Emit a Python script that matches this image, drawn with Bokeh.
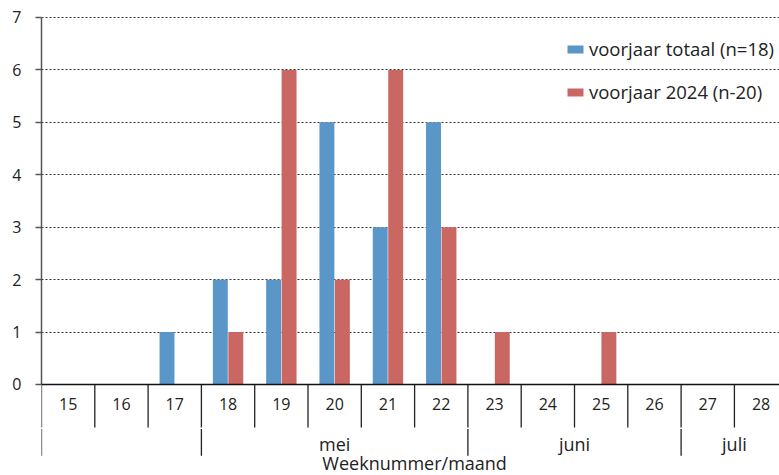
from bokeh.plotting import figure
from bokeh.models import Range1d, FixedTicker, Span, Legend, LegendItem, ColumnDataSource
from bokeh.transform import dodge
from bokeh.core.properties import value
from bokeh.embed import file_html
from bokeh.resources import INLINE

weeks = [15, 16, 17, 18, 19, 20, 21, 22, 23, 24, 25, 26, 27, 28]
totaal = [0, 0, 1, 2, 2, 5, 3, 5, 0, 0, 0, 0, 0, 0]
v2024 = [0, 0, 0, 1, 6, 2, 6, 3, 1, 0, 1, 0, 0, 0]
y_ticks = [0, 1, 2, 3, 4, 5, 6, 7]
months = ["mei", "juni", "juli"]
month_start = [18, 23, 27]
month_end = [22, 26, 28]
label_totaal = "voorjaar totaal (n=18)"
label_2024 = "voorjaar 2024 (n-20)"
x_title = "Weeknummer/maand"

FONT = "Open Sans"
BLUE = "#5a96c8"
RED = "#cb6763"
TXT = "#222222"

src = ColumnDataSource(dict(week=weeks, totaal=totaal, v2024=v2024,
                            wlabel=[str(w) for w in weeks]))

p = figure(width=779, height=475, output_backend="svg", toolbar_location=None,
           x_range=Range1d(14.5, 28.346), y_range=Range1d(-1.736, 7.324),
           min_border_left=41, min_border_right=0, min_border_top=0, min_border_bottom=0)
p.outline_line_color = None
p.xaxis.visible = False
p.xgrid.visible = False

yax = p.yaxis[0]
yax.bounds = (0, 7)
yax.ticker = FixedTicker(ticks=y_ticks)
yax.minor_tick_line_color = None
yax.major_tick_out = 6
yax.major_tick_in = 0
yax.axis_line_color = "#555555"
yax.axis_line_width = 1.5
yax.major_tick_line_color = "#555555"
yax.major_tick_line_width = 1.5
yax.major_label_text_font = FONT
yax.major_label_text_font_size = "16px"
yax.major_label_text_color = TXT
yax.major_label_standoff = 14

p.ygrid.ticker = FixedTicker(ticks=y_ticks[1:])
p.ygrid.grid_line_color = "#333333"
p.ygrid.grid_line_dash = "2 2"
p.ygrid.grid_line_width = 1

b1 = p.vbar(x=dodge("week", -0.145, range=p.x_range), top="totaal", width=0.28,
            source=src, fill_color=BLUE, line_color=None)
b2 = p.vbar(x=dodge("week", 0.145, range=p.x_range), top="v2024", width=0.28,
            source=src, fill_color=RED, line_color=None)

p.add_layout(Span(location=0, dimension="width", line_color="#111111", line_width=1.5))

# week separators
bounds_w = [w - 0.5 for w in weeks]
p.segment(x0=bounds_w, y0=[0] * len(bounds_w), x1=bounds_w, y1=[-0.82] * len(bounds_w),
          line_color="#222222", line_width=1.3)
# month separators
bounds_m = [weeks[0] - 0.5] + [s - 0.5 for s in month_start]
p.segment(x0=bounds_m, y0=[-0.85] * len(bounds_m), x1=bounds_m, y1=[-1.36] * len(bounds_m),
          line_color="#222222", line_width=1.3)

p.text(x="week", y=-0.37, text="wlabel", source=src, text_font=value(FONT),
       text_font_size="16px", text_color=TXT, text_align="center", text_baseline="middle")
p.text(x=[(s + e) / 2 for s, e in zip(month_start, month_end)], y=[-1.14] * 3, text=months,
       text_font=value(FONT), text_font_size="18px", text_color=TXT,
       text_align="center", text_baseline="middle")
p.text(x=[(weeks[0] - 0.5 + 28.5) / 2], y=[-1.50], text=[x_title], text_font=value(FONT),
       text_font_size="18px", text_color=TXT, text_align="center", text_baseline="middle")

legend = Legend(items=[LegendItem(label=label_totaal, renderers=[b1]),
                       LegendItem(label=label_2024, renderers=[b2])],
                location="top_right", margin=0, padding=0, spacing=18,
                glyph_width=20, glyph_height=10, label_standoff=4,
                background_fill_alpha=0, border_line_color=None,
                label_text_font=FONT, label_text_font_size="18.5px", label_text_color=TXT)
legend.location = (524, 371)
p.add_layout(legend)

open("out.html", "w").write(file_html(p, INLINE))
